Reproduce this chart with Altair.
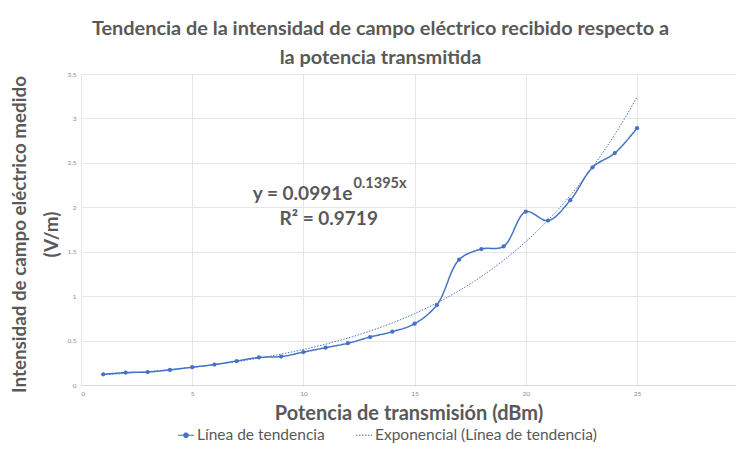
import altair as alt
import pandas as pd

# Data
potencia = list(range(1, 26))
intensidad = [0.12, 0.14, 0.146, 0.17, 0.20, 0.23, 0.27, 0.31, 0.32, 0.37,
              0.42, 0.47, 0.54, 0.60, 0.69, 0.90, 1.41, 1.53, 1.56, 1.95,
              1.85, 2.08, 2.45, 2.61, 2.89]
series_names = ["Línea de tendencia", "Exponencial (Línea de tendencia)"]
coef_a = 0.0991
coef_b = 0.1395
eq_main = ["y = 0.0991e"]
eq_sup = ["0.1395x"]
eq_r2 = ["R² = 0.9719"]
eq_pos_x = [12.2, 12.25, 13.35]
eq_pos_y = [2.15, 2.26, 1.87]
x_ticks = [0, 5, 10, 15, 20, 25]
y_ticks = [0, 0.5, 1, 1.5, 2, 2.5, 3, 3.5]

BLUE = "#4472C4"
GRAY = "#595959"
FONT = "Lato"

df = pd.DataFrame({"x": potencia, "y": intensidad, "serie": series_names[0]})

xscale = alt.Scale(domain=[0, 29.45], nice=False, zero=False)
yscale = alt.Scale(domain=[0, 3.5], nice=False)

xaxis = alt.Axis(values=x_ticks, title="Potencia de transmisión (dBm)",
                 titleFontSize=20, titleFont=FONT, titleFontWeight="bold",
                 titleColor=GRAY, titlePadding=7, labelFontSize=6.5,
                 labelColor="#8C8C8C", labelFont=FONT, ticks=False, labelPadding=5,
                 domainColor="#D9D9D9", gridColor="#E6E6E6")
yaxis = alt.Axis(values=y_ticks, format="~g",
                 title=["Intensidad de campo eléctrico medido", "(V/m)"],
                 titleFontSize=18.8, titleFont=FONT, titleFontWeight="bold",
                 titleColor=GRAY, titleLineHeight=32, titleX=-62, titleY=160,
                 titleAngle=-90, titleAlign="center", titleBaseline="middle",
                 labelFontSize=6.5, labelColor="#8C8C8C", labelFont=FONT,
                 ticks=False, labelPadding=5, domain=False, gridColor="#E6E6E6")

marker_path = ("M-1,0L1,0M-0.28,0A0.28,0.28,0,1,0,0.28,0"
               "A0.28,0.28,0,1,0,-0.28,0Z")
first = series_names[0]

color_scale = alt.Scale(domain=series_names, range=[BLUE, BLUE])
dash_scale = alt.Scale(domain=series_names, range=[[1, 0], [1.5, 1.5]])
legend = alt.Legend(
    title=None, orient="none", legendX=96, legendY=352,
    direction="horizontal", labelFontSize=15.5, labelFont=FONT,
    labelColor=GRAY,
    symbolType=alt.ExprRef(expr=f"datum && datum.value === '{first}' ? '{marker_path}' : 'stroke'"),
    symbolFillColor=alt.ExprRef(expr=f"datum && datum.value === '{first}' ? '{BLUE}' : 'transparent'"),
    symbolSize=256, symbolStrokeWidth=1.2, columnPadding=28, labelOffset=2,
    labelLimit=400,
)

trend = alt.Chart(alt.sequence(1, 25.01, 0.2, as_="x")).transform_calculate(
    y=f"{coef_a}*exp({coef_b}*datum.x)", serie=f"'{series_names[1]}'"
).mark_line(strokeWidth=1).encode(
    x=alt.X("x:Q", scale=xscale, axis=xaxis),
    y=alt.Y("y:Q", scale=yscale, axis=yaxis),
    color=alt.Color("serie:N", scale=color_scale, legend=legend, sort=series_names),
    strokeDash=alt.StrokeDash("serie:N", scale=dash_scale, legend=legend, sort=series_names),
)

line = alt.Chart(df).mark_line(interpolate="catmull-rom", strokeWidth=1.5).encode(
    x=alt.X("x:Q", scale=xscale, axis=xaxis),
    y=alt.Y("y:Q", scale=yscale, axis=yaxis),
    color=alt.Color("serie:N", scale=color_scale, legend=legend, sort=series_names),
    strokeDash=alt.StrokeDash("serie:N", scale=dash_scale, legend=legend, sort=series_names),
)

points = alt.Chart(df).mark_point(filled=True, size=18, opacity=1, color=BLUE).encode(
    x="x:Q", y="y:Q"
)

eq_df = pd.DataFrame({
    "t": eq_main + eq_sup + eq_r2,
    "x": eq_pos_x, "y": eq_pos_y,
    "kind": ["main", "sup", "r2"],
})

eq1 = alt.Chart(eq_df).transform_filter("datum.kind == 'main'").mark_text(
    align="right", baseline="middle", fontSize=19, font=FONT, fontWeight="bold", color=GRAY
).encode(x="x:Q", y="y:Q", text="t:N")
eq2 = alt.Chart(eq_df).transform_filter("datum.kind == 'sup'").mark_text(
    align="left", baseline="middle", fontSize=14.5, font=FONT, fontWeight="bold", color=GRAY
).encode(x="x:Q", y="y:Q", text="t:N")
eq3 = alt.Chart(eq_df).transform_filter("datum.kind == 'r2'").mark_text(
    align="right", baseline="middle", fontSize=19, font=FONT, fontWeight="bold", color=GRAY
).encode(x="x:Q", y="y:Q", text="t:N")

chart = alt.layer(trend, line, points, eq1, eq2, eq3).properties(
    width=655, height=311,
    title=alt.TitleParams(
        ["Tendencia de la intensidad de campo eléctrico recibido respecto a",
         "la potencia transmitida"],
        fontSize=19.9, font=FONT, fontWeight="bold", color=GRAY, anchor="middle",
        dx=-28, offset=3, lineHeight=29,
    ),
    autosize=alt.AutoSizeParams(type="none"),
    padding={"left": 73, "top": 66, "right": 0, "bottom": 59},
).configure_view(stroke=None).resolve_scale(color="shared")

chart.save("out.html", embed_options={"renderer": "svg", "actions": False})
